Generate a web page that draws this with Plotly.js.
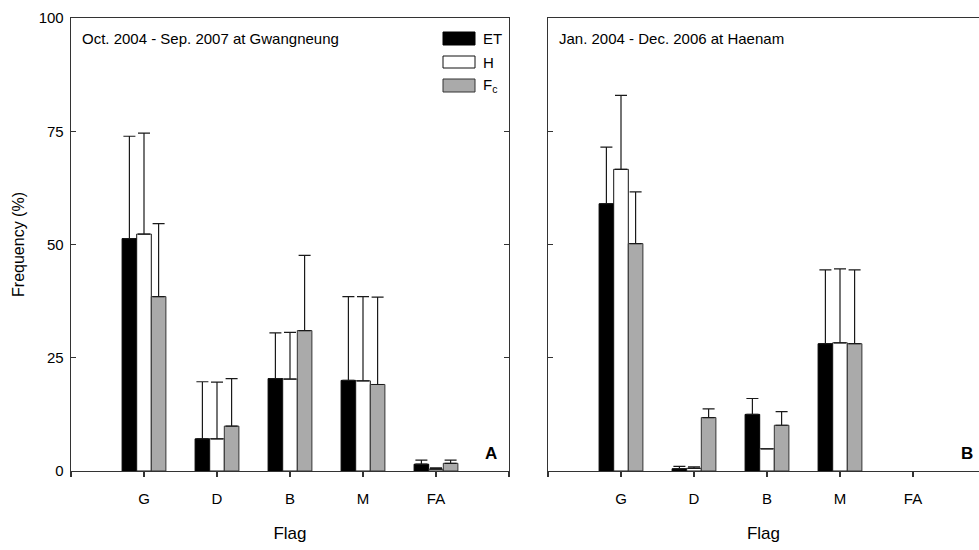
<!DOCTYPE html>
<html>
<head>
<meta charset="utf-8">
<script src="https://cdn.plot.ly/plotly-3.0.1.min.js"></script>
<style>
  html, body { margin: 0; padding: 0; background: #fff; overflow: hidden; }
  #chart { width: 979px; height: 550px; }
</style>
</head>
<body>
<div id="chart"></div>
<script>
// ---- data ----
const categories = ['G', 'D', 'B', 'M', 'FA'];
const seriesNames = ['ET', 'H', 'F<sub>c</sub>'];

// Panel A: Oct. 2004 - Sep. 2007 at Gwangneung
const gwangET   = [51.3, 7.1, 20.4, 20.0, 1.5];
const gwangH    = [52.3, 7.1, 20.3, 19.9, 0.4];
const gwangFc   = [38.5, 9.9, 31.0, 19.1, 1.7];
const gwangETErr = [22.6, 12.6, 10.1, 18.5, 0.9];
const gwangHErr  = [22.3, 12.5, 10.3, 18.6, 0.3];
const gwangFcErr = [16.1, 10.5, 16.6, 19.3, 0.7];

// Panel B: Jan. 2004 - Dec. 2006 at Haenam (no FA bars drawn)
const haeET   = [59.0, 0.5, 12.5, 28.1, null];
const haeH    = [66.6, 0.6, 4.9, 28.3, null];
const haeFc   = [50.2, 11.8, 10.1, 28.1, null];
const haeETErr = [12.5, 0.5, 3.5, 16.3, null];
const haeHErr  = [16.3, 0.3, 0, 16.3, null];
const haeFcErr = [11.4, 1.9, 3.0, 16.3, null];

const yTicks = [0, 25, 50, 75, 100];

// ---- styles ----
const fills = ['#000000', '#ffffff', '#aaaaaa'];
const outlines = ['#000000', '#111111', '#333333'];
const FONT = 'Arial, "Liberation Sans", sans-serif';
const xpos = categories.map((c, i) => i + 1);

function barTrace(vals, errs, k, xa, ya) {
  return {
    type: 'bar',
    x: xpos,
    y: vals,
    name: seriesNames[k],
    xaxis: xa, yaxis: ya,
    showlegend: false,
    marker: { color: fills[k], line: { color: outlines[k], width: 1 } },
    error_y: {
      type: 'data', symmetric: false,
      array: errs, arrayminus: errs.map(() => 0),
      color: '#1a1a1a', thickness: 1.2, width: 6
    },
    hoverinfo: 'skip'
  };
}

const data = [
  barTrace(gwangET, gwangETErr, 0, 'x', 'y'),
  barTrace(gwangH, gwangHErr, 1, 'x', 'y'),
  barTrace(gwangFc, gwangFcErr, 2, 'x', 'y'),
  barTrace(haeET, haeETErr, 0, 'x2', 'y2'),
  barTrace(haeH, haeHErr, 1, 'x2', 'y2'),
  barTrace(haeFc, haeFcErr, 2, 'x2', 'y2')
];

const L = 71, T = 18, B = 79, W = 979, H = 550;
const PW = W - L, PH = H - T - B;
const px = v => (v - L) / PW;
const py = v => (H - B - v) / PH;

const axisLine = '#333333';
const xBase = {
  range: [0, categories.length + 1],
  tickmode: 'array', tickvals: xpos, ticktext: categories,
  ticks: 'outside', ticklen: 5, tickwidth: 1.2, tickcolor: axisLine,
  minor: { tickmode: 'array', tickvals: [0, categories.length + 1], ticks: 'outside',
           ticklen: 5, tickwidth: 1.2, tickcolor: axisLine, showgrid: false },
  showline: true, linecolor: axisLine, linewidth: 1.3, mirror: true,
  showgrid: false, zeroline: false, fixedrange: true,
  ticklabelstandoff: 9,
  tickfont: { family: FONT, size: 15, color: '#000' },
  title: { text: 'Flag', font: { family: FONT, size: 17, color: '#000' }, standoff: 20 }
};
const yBase = {
  range: [0, 100],
  tickmode: 'array', tickvals: yTicks,
  ticks: 'inside', ticklen: 5, tickwidth: 1.2, tickcolor: axisLine,
  showline: true, linecolor: axisLine, linewidth: 1.3,
  showgrid: false, zeroline: false, fixedrange: true,
  tickfont: { family: FONT, size: 15, color: '#000' }
};

const layout = {
  width: W, height: H,
  margin: { l: L, r: 0, t: T, b: B, pad: 0 },
  paper_bgcolor: '#fff', plot_bgcolor: '#fff',
  barmode: 'group', bargap: 0.4, bargroupgap: 0,
  showlegend: false,
  xaxis: Object.assign({}, xBase, { domain: [0, px(509)], anchor: 'y' }),
  xaxis2: Object.assign({}, xBase, { domain: [px(548), 1], range: [0, (W - 548) / 73], anchor: 'y2' }),
  yaxis: Object.assign({}, yBase, {
    domain: [0, 1], anchor: 'x', mirror: 'ticks', ticklabelstandoff: 3,
    title: { text: 'Frequency (%)', font: { family: FONT, size: 16, color: '#000' }, standoff: 10 }
  }),
  yaxis2: Object.assign({}, yBase, { domain: [0, 1], anchor: 'x2', showticklabels: false, mirror: false }),
  annotations: [
    { text: 'Oct. 2004 - Sep. 2007 at Gwangneung', xref: 'paper', yref: 'paper', x: px(80), y: py(38),
      xanchor: 'left', yanchor: 'middle', showarrow: false, font: { family: FONT, size: 15, color: '#000' } },
    { text: 'Jan. 2004 - Dec. 2006 at Haenam', xref: 'paper', yref: 'paper', x: px(557), y: py(38),
      xanchor: 'left', yanchor: 'middle', showarrow: false, font: { family: FONT, size: 15, color: '#000' } },
    { text: '<b>A</b>', xref: 'paper', yref: 'paper', x: px(491), y: py(453),
      xanchor: 'center', yanchor: 'middle', showarrow: false, font: { family: FONT, size: 17, color: '#000' } },
    { text: '<b>B</b>', xref: 'paper', yref: 'paper', x: px(967), y: py(453),
      xanchor: 'center', yanchor: 'middle', showarrow: false, font: { family: FONT, size: 17, color: '#000' } }
  ],
  shapes: []
};

// custom legend (boxes + labels) in the top-right corner of panel A
const legY = [[32, 45], [56, 68], [79, 92]];
seriesNames.forEach((name, k) => {
  layout.shapes.push({
    type: 'rect', xref: 'paper', yref: 'paper',
    x0: px(443), x1: px(475), y0: py(legY[k][1]), y1: py(legY[k][0]),
    fillcolor: fills[k], line: { color: outlines[k], width: 1 }
  });
  layout.annotations.push({
    text: name, xref: 'paper', yref: 'paper',
    x: px(481), y: py((legY[k][0] + legY[k][1]) / 2),
    xanchor: 'left', yanchor: 'middle', showarrow: false,
    font: { family: FONT, size: 15, color: '#000' }
  });
});

Plotly.newPlot('chart', data, layout, { displayModeBar: false, staticPlot: true });
</script>
</body>
</html>
